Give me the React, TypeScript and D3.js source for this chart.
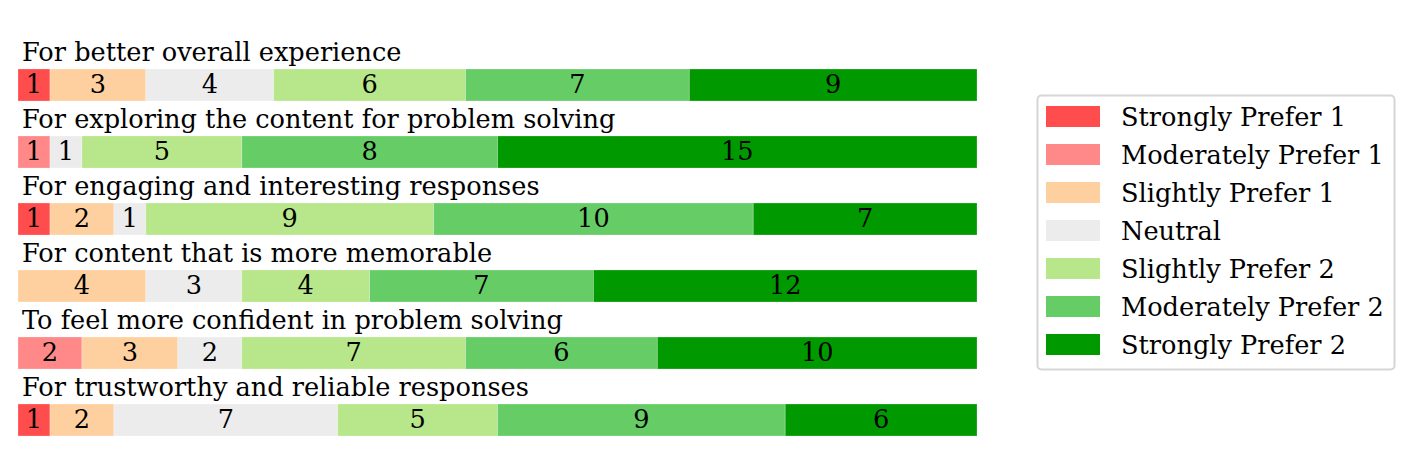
import React from 'react';
import * as d3 from 'd3';

const questions = [
  'For better overall experience',
  'For exploring the content for problem solving',
  'For engaging and interesting responses',
  'For content that is more memorable',
  'To feel more confident in problem solving',
  'For trustworthy and reliable responses',
];

const levels = [
  'Strongly Prefer 1',
  'Moderately Prefer 1',
  'Slightly Prefer 1',
  'Neutral',
  'Slightly Prefer 2',
  'Moderately Prefer 2',
  'Strongly Prefer 2',
];

const colors = ['#ff4c4c', '#ff8888', '#ffd09f', '#ececec', '#b8e68a', '#66cc66', '#009900'];

// counts per question, one entry per level
const strongly1 = [1, 0, 1, 0, 0, 1];
const moderately1 = [0, 1, 0, 0, 2, 0];
const slightly1 = [3, 0, 2, 4, 3, 2];
const neutral = [4, 1, 1, 3, 2, 7];
const slightly2 = [6, 5, 9, 4, 7, 5];
const moderately2 = [7, 8, 10, 7, 6, 9];
const strongly2 = [9, 15, 7, 12, 10, 6];

const series = [strongly1, moderately1, slightly1, neutral, slightly2, moderately2, strongly2];

const W = 1413, H = 466;
const FONT = '"DejaVu Serif", serif';
const FS = 25.6;

export default function App() {
  const rows = questions.map((q, i) => {
    const r: any = { q };
    levels.forEach((l, j) => { r[l] = series[j][i]; });
    return r;
  });
  const stacked = d3.stack().keys(levels)(rows);

  const x = d3.scaleLinear().domain([0, 30]).range([18, 977]);
  const y = d3.scaleBand().domain(questions).range([34.5, 436.5]).paddingInner(0).paddingOuter(0);
  const barH = 32;
  const barTop = (q: string) => (y(q) as number) + y.bandwidth() - barH - 0.5;

  return (
    <svg width={W} height={H} style={{ position: 'absolute', left: 0, top: 0 }} fontFamily={FONT}>
      {questions.map((q) => (
        <text key={q} x={22} y={barTop(q) - 8} fontSize={FS} fill="#000">{q}</text>
      ))}
      {stacked.map((s, j) => (
        <g key={levels[j]}>
          {s.map((d, i) => {
            const v = d[1] - d[0];
            if (v <= 0) return null;
            const q = questions[i];
            const x0 = x(d[0]), x1 = x(d[1]);
            const top = barTop(q);
            return (
              <g key={q}>
                <rect x={x0} y={top} width={x1 - x0} height={barH} fill={colors[j]}
                  stroke="#fff" strokeOpacity={0.3} strokeWidth={0.8} />
                <text x={(x0 + x1) / 2} y={top + barH / 2} dy="0.33em" textAnchor="middle"
                  fontSize={FS} fill="#000">{v}</text>
              </g>
            );
          })}
        </g>
      ))}
      <g>
        <rect x={1037.5} y={95.5} width={357} height={274} rx={4} fill="#fff" stroke="#d6d6d6" strokeWidth={2} />
        {levels.map((l, j) => (
          <g key={l} transform={`translate(1046, ${106 + j * 38})`}>
            <rect width={54} height={21} fill={colors[j]} />
            <text x={75} y={10.5} dy="0.36em" fontSize={FS} fill="#000">{l}</text>
          </g>
        ))}
      </g>
    </svg>
  );
}
